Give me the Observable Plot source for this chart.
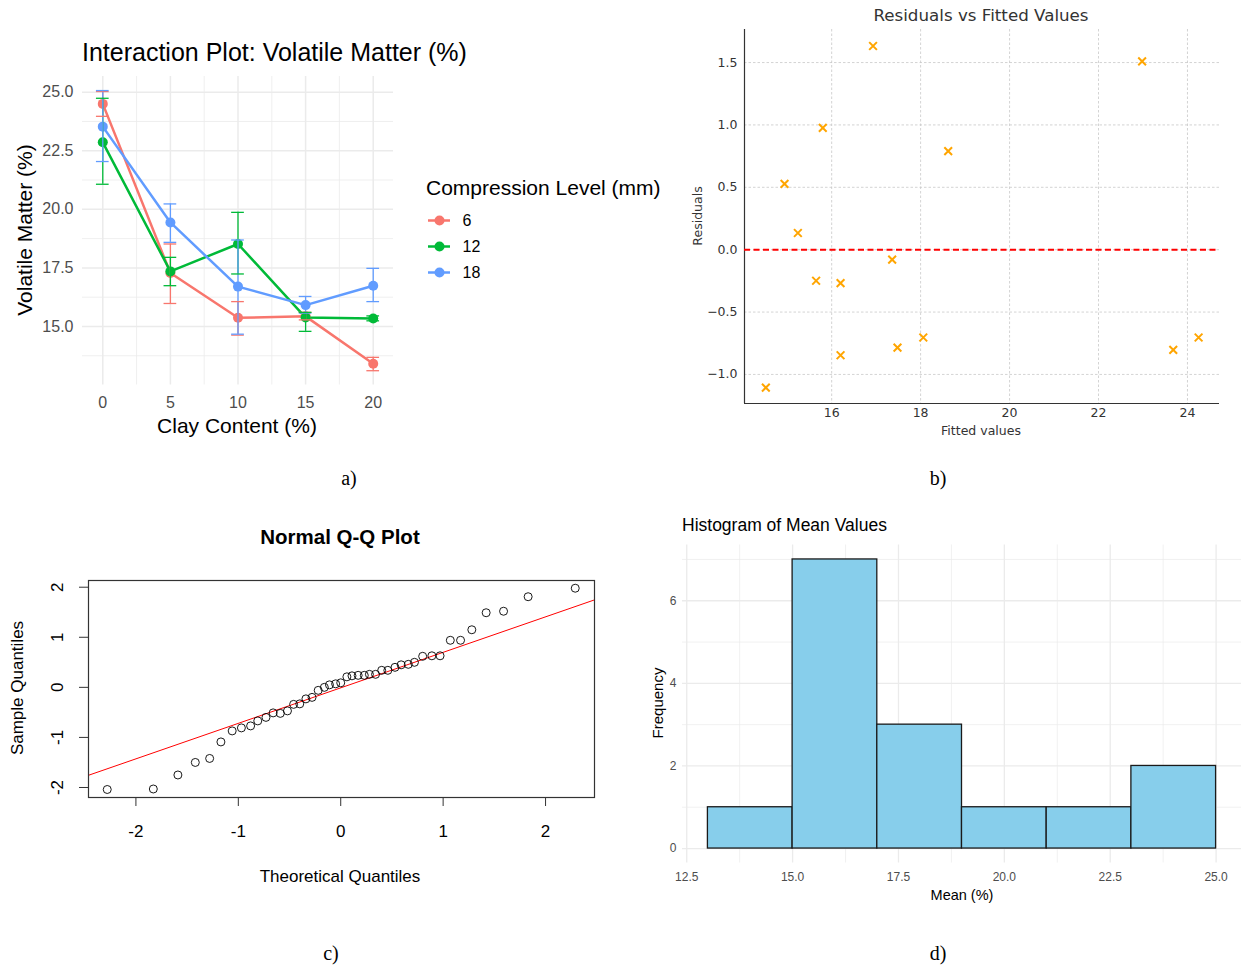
<!DOCTYPE html>
<html><head><meta charset="utf-8">
<script src="https://cdn.jsdelivr.net/npm/d3@7"></script>
<script src="https://cdn.jsdelivr.net/npm/@observablehq/plot@0.6"></script>
<style>
body{margin:0;background:#fff;}
#root{position:relative;width:1241px;height:968px;overflow:hidden;background:#fff;}
.p{position:absolute;}
.t{position:absolute;white-space:nowrap;line-height:1;}
</style></head><body><div id="root"></div>
<script>
// ---------- Panel a: interaction plot ----------
const clay = [0, 5, 10, 15, 20];
const levels = ["6", "12", "18"];
const levelColors = ["#F8766D", "#00BA38", "#619CFF"];
const vm6  = [24.50, 17.28, 15.37, 15.43, 13.41];
const vm12 = [22.86, 17.35, 18.52, 15.38, 15.34];
const vm18 = [23.53, 19.44, 16.70, 15.91, 16.74];
const lo6  = [23.97, 15.98, 14.63, 15.28, 13.11];
const hi6  = [25.03, 18.52, 16.06, 15.60, 13.68];
const lo12 = [21.07, 16.74, 17.24, 14.79, 15.24];
const hi12 = [24.74, 17.95, 19.87, 15.60, 15.45];
const lo18 = [22.04, 18.59, 14.67, 15.57, 16.06];
const hi18 = [25.07, 20.23, 18.69, 16.28, 17.48];
const yTicksA = [15, 17.5, 20, 22.5, 25];
const yMinorA = [13.75, 16.25, 18.75, 21.25, 23.75];
const xMinorA = [2.5, 7.5, 12.5, 17.5];

// ---------- Panel b: residuals vs fitted ----------
const fitted    = [14.52, 14.94, 15.24, 15.80, 15.65, 16.20, 16.20, 16.93, 17.36, 17.48, 18.06, 18.62, 22.98, 23.68, 24.25];
const residuals = [-1.106, 0.528, 0.134, 0.977, -0.249, -0.268, -0.846, 1.633, -0.080, -0.785, -0.704, 0.790, 1.510, -0.803, -0.704];
const xTicksB = [16, 18, 20, 22, 24];
const yTicksB = [-1.0, -0.5, 0.0, 0.5, 1.0, 1.5];

// ---------- Panel c: normal Q-Q ----------
const theoretical = [-2.28, -1.83, -1.59, -1.42, -1.28, -1.17, -1.06, -0.97, -0.88, -0.81, -0.73, -0.66, -0.59, -0.52, -0.46, -0.40, -0.34, -0.28, -0.22, -0.16, -0.11, -0.05, 0.00, 0.06, 0.11, 0.17, 0.23, 0.28, 0.34, 0.40, 0.46, 0.53, 0.59, 0.66, 0.72, 0.80, 0.89, 0.97, 1.07, 1.17, 1.28, 1.42, 1.59, 1.83, 2.29];
const sample = [-2.04, -2.03, -1.75, -1.50, -1.42, -1.09, -0.87, -0.81, -0.77, -0.67, -0.60, -0.51, -0.52, -0.47, -0.34, -0.33, -0.23, -0.20, -0.06, 0.00, 0.05, 0.07, 0.09, 0.21, 0.23, 0.24, 0.24, 0.26, 0.26, 0.34, 0.34, 0.40, 0.45, 0.46, 0.50, 0.62, 0.63, 0.63, 0.94, 0.94, 1.15, 1.49, 1.52, 1.81, 1.98];
const qqIntercept = -0.01;
const qqSlope = 0.709;
const ticksC = [-2, -1, 0, 1, 2];

// ---------- Panel d: histogram ----------
const binLo = [13, 15, 17, 19, 21, 23];
const binHi = [15, 17, 19, 21, 23, 25];
const binCount = [1, 7, 3, 1, 1, 2];
const xTicksD = [12.5, 15, 17.5, 20, 22.5, 25];
const xMinorD = [13.75, 16.25, 18.75, 21.25, 23.75];
const yTicksD = [0, 2, 4, 6];
const yMinorD = [1, 3, 5, 7];

const root = document.getElementById("root");
function place(svg, left, top) {
  const d = document.createElement("div");
  d.className = "p"; d.style.left = left + "px"; d.style.top = top + "px";
  d.appendChild(svg); root.appendChild(d);
}
function txt(s, x, y, o = {}) {
  const d = document.createElement("div");
  d.className = "t"; d.textContent = s;
  d.style.left = x + "px"; d.style.top = y + "px";
  d.style.fontSize = (o.size || 16) + "px";
  d.style.fontFamily = o.family || "'Liberation Sans', Arial, sans-serif";
  d.style.fontWeight = o.weight || "normal";
  d.style.color = o.color || "#000";
  const ax = o.anchor === "start" ? "0" : "-50%";
  d.style.transform = `translate(${ax},-50%)` + (o.rotate ? ` rotate(${o.rotate}deg)` : "");
  root.appendChild(d);
}

// ===== Panel a =====
const vmAll = [vm6, vm12, vm18], loAll = [lo6, lo12, lo18], hiAll = [hi6, hi12, hi18];
const rowsA = levels.flatMap((lv, i) => clay.map((c, j) => ({level: lv, clay: c, vm: vmAll[i][j], lo: loAll[i][j], hi: hiAll[i][j]})));
const capHalf = 0.47;
const plotA = Plot.plot({
  width: 420, height: 440, marginLeft: 82, marginRight: 27, marginTop: 76, marginBottom: 55.5,
  style: {fontFamily: "'Liberation Sans', Arial, sans-serif", fontSize: "16px", color: "#4D4D4D", background: "transparent"},
  x: {domain: [-1.5, 21.5]},
  y: {domain: [12.5, 25.67]},
  color: {domain: levels, range: levelColors},
  marks: [
    Plot.gridX(xMinorA, {stroke: "#EBEBEB", strokeOpacity: 1, strokeWidth: 0.8}),
    Plot.gridY(yMinorA, {stroke: "#EBEBEB", strokeOpacity: 1, strokeWidth: 0.8}),
    Plot.gridX(clay, {stroke: "#EBEBEB", strokeOpacity: 1, strokeWidth: 1.5}),
    Plot.gridY(yTicksA, {stroke: "#EBEBEB", strokeOpacity: 1, strokeWidth: 1.5}),
    Plot.axisX(clay, {tickSize: 0, tickPadding: 12, label: null}),
    Plot.axisY(yTicksA, {tickSize: 0, tickPadding: 9, tickFormat: d3.format(".1f"), label: null}),
    Plot.line(rowsA, {x: "clay", y: "vm", stroke: "level", strokeWidth: 2.5}),
    Plot.dot(rowsA, {x: "clay", y: "vm", fill: "level", r: 5}),
    Plot.ruleX(rowsA, {x: "clay", y1: "lo", y2: "hi", stroke: "level", strokeWidth: 1.3}),
    Plot.ruleY(rowsA, {y: "lo", x1: d => d.clay - capHalf, x2: d => d.clay + capHalf, stroke: "level", strokeWidth: 1.3}),
    Plot.ruleY(rowsA, {y: "hi", x1: d => d.clay - capHalf, x2: d => d.clay + capHalf, stroke: "level", strokeWidth: 1.3})
  ]
});
place(plotA, 0, 0);
txt("Interaction Plot: Volatile Matter (%)", 82, 52, {size: 25, anchor: "start"});
txt("Volatile Matter (%)", 24, 230, {size: 21, rotate: -90});
txt("Clay Content (%)", 237, 425, {size: 21});
txt("Compression Level (mm)", 426, 187, {size: 21, anchor: "start"});
const legendA = Plot.plot({
  width: 80, height: 80, marginLeft: 2, marginRight: 56, marginTop: 0, marginBottom: 0,
  style: {fontFamily: "'Liberation Sans', Arial, sans-serif", fontSize: "16px", background: "transparent"},
  x: {axis: null},
  y: {type: "point", domain: levels, range: [13, 65], padding: 0, axis: null},
  color: {domain: levels, range: levelColors},
  marks: [
    Plot.tickY(levels, {y: d => d, stroke: d => d, strokeWidth: 2.5}),
    Plot.dot(levels, {y: d => d, fill: d => d, r: 5, frameAnchor: "middle"}),
    Plot.text(levels, {y: d => d, text: d => d, frameAnchor: "right", dx: 12, textAnchor: "start", fill: "#000", fontSize: 16})
  ]
});
place(legendA, 426, 207);

// ===== Panel b =====
const rowsB = fitted.map((f, i) => ({f, r: residuals[i]}));
const xDomB = [14.04, 24.72], yDomB = [-1.233, 1.765];
const plotB = Plot.plot({
  width: 561, height: 450, marginLeft: 64, marginRight: 22, marginTop: 29, marginBottom: 47,
  style: {fontFamily: "'DejaVu Sans', sans-serif", fontSize: "12.5px", color: "#333", background: "transparent"},
  x: {domain: xDomB},
  y: {domain: yDomB},
  marks: [
    Plot.gridX(xTicksB, {stroke: "#c8c8c8", strokeOpacity: 1, strokeWidth: 0.8, strokeDasharray: "2.5,2"}),
    Plot.gridY(yTicksB, {stroke: "#c8c8c8", strokeOpacity: 1, strokeWidth: 0.8, strokeDasharray: "2.5,2"}),
    Plot.axisX(xTicksB, {tickSize: 0, tickPadding: 5, label: null}),
    Plot.axisY(yTicksB, {tickSize: 0, tickPadding: 7, tickFormat: d3.format(".1f"), label: null}),
    Plot.ruleX([xDomB[0]], {stroke: "#333", strokeWidth: 1.2}),
    Plot.ruleY([yDomB[0]], {stroke: "#333", strokeWidth: 1.2}),
    Plot.ruleY([0], {stroke: "red", strokeWidth: 2, strokeDasharray: "6,3.5"}),
    Plot.dot(rowsB, {x: "f", y: "r", symbol: "times", r: 3.6, stroke: "#FFA500", strokeWidth: 2})
  ]
});
place(plotB, 680, 0);
txt("Residuals vs Fitted Values", 981, 15, {size: 16.7, family: "'DejaVu Sans', sans-serif", color: "#333"});
txt("Fitted values", 981, 431, {size: 12.5, family: "'DejaVu Sans', sans-serif", color: "#333"});
txt("Residuals", 698, 216, {size: 12.5, family: "'DejaVu Sans', sans-serif", color: "#333", rotate: -90});

// ===== Panel c =====
const rowsC = theoretical.map((t, i) => ({t, s: sample[i]}));
const xDomC = [-2.463, 2.478], yDomC = [-2.2, 2.134];
const lineC = xDomC.map(x => ({x, y: qqIntercept + qqSlope * x}));
const plotC = Plot.plot({
  width: 620, height: 400, marginLeft: 88, marginRight: 26, marginTop: 70, marginBottom: 113,
  style: {fontFamily: "'Liberation Sans', Arial, sans-serif", fontSize: "17px", color: "#000", background: "transparent"},
  x: {domain: xDomC},
  y: {domain: yDomC},
  marks: [
    Plot.axisX(ticksC, {tickSize: 9, tickPadding: 18, tickFormat: d => String(d), label: null, stroke: "#333"}),
    Plot.axisY(ticksC, {tickSize: 9, tickPadding: 17, tickRotate: -90, tickFormat: d => String(d), label: null, stroke: "#333"}),
    Plot.line(lineC, {x: "x", y: "y", stroke: "#FF0000", strokeWidth: 1}),
    Plot.dot(rowsC, {x: "t", y: "s", r: 4, stroke: "#000", strokeWidth: 0.9, fill: "none"}),
    Plot.frame({stroke: "#333", strokeWidth: 1.2})
  ]
});
place(plotC, 0, 510);
txt("Normal Q-Q Plot", 340, 537, {size: 20.5, weight: "bold"});
txt("Theoretical Quantiles", 340, 876, {size: 17});
txt("Sample Quantiles", 17, 688, {size: 17, rotate: -90});

// ===== Panel d =====
const rowsD = binCount.map((c, i) => ({x1: binLo[i], x2: binHi[i], count: c}));
const plotD = Plot.plot({
  width: 601, height: 400, marginLeft: 42, marginRight: 0, marginTop: 34.5, marginBottom: 47.5,
  style: {fontFamily: "'Liberation Sans', Arial, sans-serif", fontSize: "12px", color: "#4D4D4D", background: "transparent"},
  x: {domain: [12.4, 25.6]},
  y: {domain: [-0.35, 7.35]},
  marks: [
    Plot.gridX(xMinorD, {stroke: "#EBEBEB", strokeOpacity: 1, strokeWidth: 0.7}),
    Plot.gridY(yMinorD, {stroke: "#EBEBEB", strokeOpacity: 1, strokeWidth: 0.7}),
    Plot.gridX(xTicksD, {stroke: "#EBEBEB", strokeOpacity: 1, strokeWidth: 1.3}),
    Plot.gridY(yTicksD, {stroke: "#EBEBEB", strokeOpacity: 1, strokeWidth: 1.3}),
    Plot.axisX(xTicksD, {tickSize: 0, tickPadding: 9, tickFormat: d3.format(".1f"), label: null}),
    Plot.axisY(yTicksD, {tickSize: 0, tickPadding: 6, label: null}),
    Plot.rect(rowsD, {x1: "x1", x2: "x2", y1: 0, y2: "count", fill: "#87CEEB", stroke: "#1a1a1a", strokeWidth: 1.3})
  ]
});
place(plotD, 640, 510);
txt("Histogram of Mean Values", 682, 526, {size: 17.5, anchor: "start"});
txt("Mean (%)", 962, 895, {size: 14.5});
txt("Frequency", 657, 703, {size: 15, rotate: -90});

// ===== captions =====
const serif = "'Liberation Serif', 'Times New Roman', serif";
txt("a)", 349, 478, {size: 20, family: serif});
txt("b)", 938, 478, {size: 20, family: serif});
txt("c)", 331, 953, {size: 20, family: serif});
txt("d)", 938, 953, {size: 20, family: serif});
</script></body></html>
